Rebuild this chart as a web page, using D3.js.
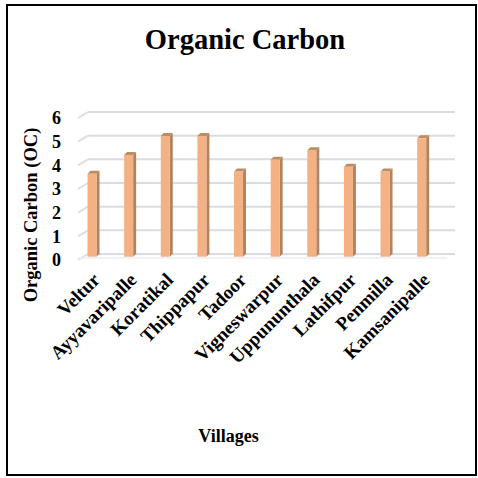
<!DOCTYPE html>
<html>
<head>
<meta charset="utf-8">
<script src="https://cdn.jsdelivr.net/npm/d3@7"></script>
<style>
  body { margin: 0; background: #fff; }
  svg { display: block; font-family: "Liberation Serif", "Times New Roman", serif; font-weight: bold; }
</style>
</head>
<body>
<div id="chart"></div>
<script>
// chart data
const villages = ['Veltur', 'Ayyavaripalle', 'Koratikal', 'Thippapur', 'Tadoor',
  'Vigneswarpur', 'Uppununthala', 'Lathifpur', 'Penmilla', 'Kamsanipalle'];
const organicCarbon = [3.5, 4.3, 5.1, 5.1, 3.6, 4.1, 4.5, 3.8, 3.6, 5.0];
const yTicks = [0, 1, 2, 3, 4, 5, 6];

const WIDTH = 478;
const HEIGHT = 478;

// 3D offsets (back wall vs front plane)
const DEPTH_X = 10;
const DEPTH_Y = 6;
const BAR_W = 9;
const BAR_SIDE = 3;

const svg = d3.select('#chart').append('svg')
  .attr('width', WIDTH)
  .attr('height', HEIGHT);

svg.append('rect')
  .attr('x', 7).attr('y', 5)
  .attr('width', 469).attr('height', 470)
  .attr('fill', '#fff')
  .attr('stroke', '#000')
  .attr('stroke-width', 2);

const x = d3.scaleBand()
  .domain(villages)
  .range([73.7, 440])
  .paddingInner(0)
  .paddingOuter(0);

// y scale for the back wall gridlines
const y = d3.scaleLinear()
  .domain([0, 6])
  .range([254, 112]);

// gridlines: back wall plus short slanted side-wall part
const grid = svg.append('g');
yTicks.forEach((t) => {
  grid.append('line')
    .attr('x1', 78 + DEPTH_X).attr('x2', 455)
    .attr('y1', y(t)).attr('y2', y(t))
    .attr('stroke', '#d9dce2')
    .attr('stroke-width', 2);
  grid.append('line')
    .attr('x1', 78).attr('x2', 78 + DEPTH_X)
    .attr('y1', y(t) + DEPTH_Y).attr('y2', y(t))
    .attr('stroke', '#dcdfe5')
    .attr('stroke-width', 2);
});
// floor front edge
grid.append('line')
  .attr('x1', 78).attr('x2', 447)
  .attr('y1', y(0) + 4).attr('y2', y(0) + 4)
  .attr('stroke', '#eceef2')
  .attr('stroke-width', 1.5);

// y tick labels (front plane)
svg.append('g')
  .selectAll('text')
  .data(yTicks)
  .join('text')
  .attr('x', 61)
  .attr('y', (d) => y(d) + DEPTH_Y)
  .attr('dy', '0.35em')
  .attr('text-anchor', 'end')
  .attr('font-size', 18)
  .text((d) => d);

// bars
const BAR_DY = 2.7;
const bars = svg.append('g')
  .selectAll('g')
  .data(villages.map((v, i) => ({ name: v, value: organicCarbon[i] })))
  .join('g');

bars.each(function (d) {
  const g = d3.select(this);
  const cx = x(d.name) + x.bandwidth() / 2;
  const x0 = cx - BAR_W / 2;
  const x1 = cx + BAR_W / 2;
  const top = y(d.value) + BAR_DY;
  const bottom = y(0) + BAR_DY;
  // side
  g.append('path')
    .attr('d', `M${x1},${top} L${x1 + BAR_SIDE},${top - BAR_SIDE} L${x1 + BAR_SIDE},${bottom - BAR_SIDE} L${x1},${bottom} Z`)
    .attr('fill', '#b1845f');
  // top
  g.append('path')
    .attr('d', `M${x0},${top} L${x0 + BAR_SIDE},${top - BAR_SIDE} L${x1 + BAR_SIDE},${top - BAR_SIDE} L${x1},${top} Z`)
    .attr('fill', '#bd8c63');
  // front
  g.append('rect')
    .attr('x', x0).attr('y', top)
    .attr('width', BAR_W).attr('height', bottom - top)
    .attr('fill', '#f4b183');
});

// x labels, rotated
svg.append('g')
  .selectAll('text')
  .data(villages)
  .join('text')
  .attr('transform', (d) => `translate(${x(d) + x.bandwidth() / 2 + 9},${281}) rotate(-45)`)
  .attr('text-anchor', 'end')
  .attr('font-size', 19)
  .text((d) => d);

// titles
svg.append('text')
  .attr('x', 245).attr('y', 49)
  .attr('text-anchor', 'middle')
  .attr('font-size', 28.5)
  .text('Organic Carbon');

svg.append('text')
  .attr('x', 228.5).attr('y', 442)
  .attr('text-anchor', 'middle')
  .attr('font-size', 18)
  .text('Villages');

svg.append('text')
  .attr('transform', 'translate(37,215) rotate(-90)')
  .attr('text-anchor', 'middle')
  .attr('font-size', 18.5)
  .text('Organic Carbon (OC)');
</script>
</body>
</html>
